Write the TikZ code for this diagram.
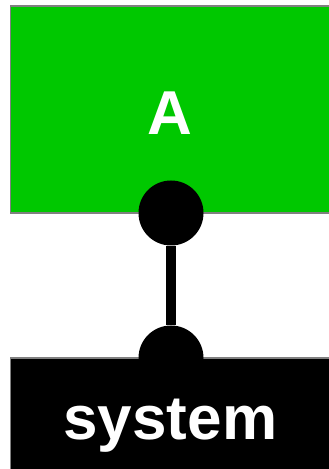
\documentclass[tikz,border=0pt]{standalone}
\usepackage{fontspec}
\setmainfont{Liberation Sans}
\usepackage{xcolor}
\usetikzlibrary{positioning}

\definecolor{blockgreen}{RGB}{0,200,0}

\tikzset{
  block/.style={draw=gray, line width=1.2pt, minimum width=319.3pt, inner sep=0pt,
    text=white, font=\bfseries\fontsize{62}{62}\selectfont,
    text height=50pt, text depth=0pt},
  port/.style={circle, fill=black, draw=none, minimum size=65pt, inner sep=0pt},
  link/.style={line width=9.5pt},
}

\begin{document}
\begin{tikzpicture}[x=1pt, y=1pt]
    \clip (0, 0) rectangle (329, 469);

    % blocks
    \node[block, fill=blockgreen, minimum height=207pt] (boxA) at (170.35, 359.5) {A};
    \node[block, fill=black, minimum height=113pt] (boxSys) at (170.35, 54.5) {system};

    % ports
    \node[port] (portA) at (171, 256) {};
    \node[port] (portSys) at (171, 111) {};

    % link
    \draw[link] (portA) -- (portSys);
\end{tikzpicture}
\end{document}
